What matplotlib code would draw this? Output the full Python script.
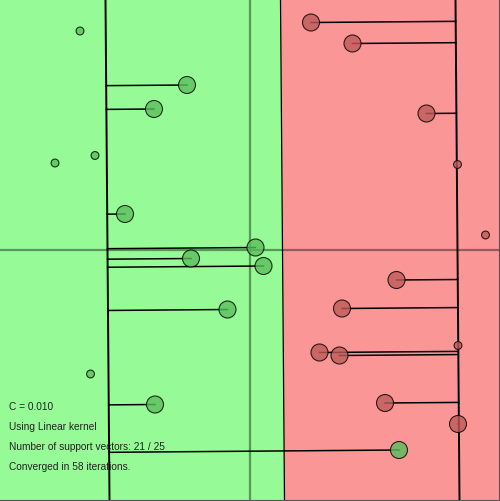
import numpy as np
import matplotlib.pyplot as plt

# data in canvas units: 50 px per unit, origin in the middle, y up
green_x = [-1.26, -1.92, -2.50, 0.11, -1.18, 0.27, -0.45, -1.90, 2.98, -3.40, -3.90, -3.10, -3.19]
green_y = [3.30, 2.82, 0.72, 0.05, -0.17, -0.32, -1.19, -3.09, -4.00, 4.38, 1.74, 1.89, -2.48]
green_sv = [1, 1, 1, 1, 1, 1, 1, 1, 1, 0, 0, 0, 0]

red_x = [1.22, 2.05, 3.53, 2.93, 1.84, 1.39, 1.79, 2.70, 4.16, 4.15, 4.71, 4.16]
red_y = [4.55, 4.13, 2.73, -0.60, -1.17, -2.05, -2.11, -3.06, -3.48, 1.71, 0.30, -1.91]
red_sv = [1, 1, 1, 1, 1, 1, 1, 1, 1, 0, 0, 0]

# linear decision function f = w.x + b
w = np.array([1 / 3.5, 0.008 / 3.5])
b = -0.65 / 3.5

info = ["C = 0.010",
        "Using Linear kernel",
        "Number of support vectors: 21 / 25",
        "Converged in 58 iterations."]

plt.rcParams['font.family'] = ['Liberation Sans', 'DejaVu Sans']

fig = plt.figure(figsize=(5.0, 5.01), dpi=100)
ax = fig.add_axes([0, 0, 1, 1])
x0, x1 = -5, 5
y0, y1 = -5.02, 5
ax.set_xlim(x0, x1)
ax.set_ylim(y0, y1)

# background regions
yy = np.array([y0, y1])
def line_x(level, y):
    return (level - b - w[1] * y) / w[0]

ax.fill_betweenx(yy, x0, line_x(0, yy), color='#96fa96', lw=0, zorder=0)
ax.fill_betweenx(yy, line_x(0, yy), x1, color='#fa9696', lw=0, zorder=0)

# axes
ax.axvline(0, color='k', alpha=0.4, lw=1.6, zorder=1)
ax.axhline(0, color='k', alpha=0.4, lw=1.6, zorder=1)

# boundary and margins
ax.plot(line_x(0, yy), yy, color='k', lw=0.9, zorder=2)
ax.plot(line_x(-1, yy), yy, color='k', lw=1.4, zorder=2)
ax.plot(line_x(1, yy), yy, color='k', lw=1.4, zorder=2)

def draw(xs, ys, sv, label, fc):
    xs = np.array(xs)
    ys = np.array(ys)
    sv = np.array(sv, dtype=bool)
    for px, py, s in zip(xs, ys, sv):
        if not s:
            continue
        f = w[0] * px + w[1] * py + b
        t = (f - label) / (w @ w)
        ax.plot([px, px - t * w[0]], [py, py - t * w[1]], color='k', lw=1.1, zorder=3)
    sizes = np.where(sv, 150, 32)
    ax.scatter(xs, ys, s=sizes, c=fc, alpha=0.8, edgecolors=(0, 0, 0, 0.55),
               linewidths=0.8, zorder=4)

draw(green_x, green_y, green_sv, -1, [(90 / 255, 190 / 255, 90 / 255)])
draw(red_x, red_y, red_sv, 1, [(190 / 255, 90 / 255, 90 / 255)])

for i, s in enumerate(info):
    ax.text(9, 410 + 20 * i, s, transform=None, fontsize=7.3, color='#222222',
            va='baseline', ha='left')
# transform=None uses display pixels from bottom-left; fix the y direction
for t in ax.texts:
    xp, yp = t.get_position()
    t.set_position((xp, 501 - yp))

ax.axis('off')
ax.plot([x0, x1], [y0 + 0.01, y0 + 0.01], color='#555555', lw=1.5, zorder=5, clip_on=False)
ax.plot([x1 - 0.01, x1 - 0.01], [y0, y1], color='#555555', lw=1.5, zorder=5, clip_on=False)

fig.savefig('out.png', dpi=100)
